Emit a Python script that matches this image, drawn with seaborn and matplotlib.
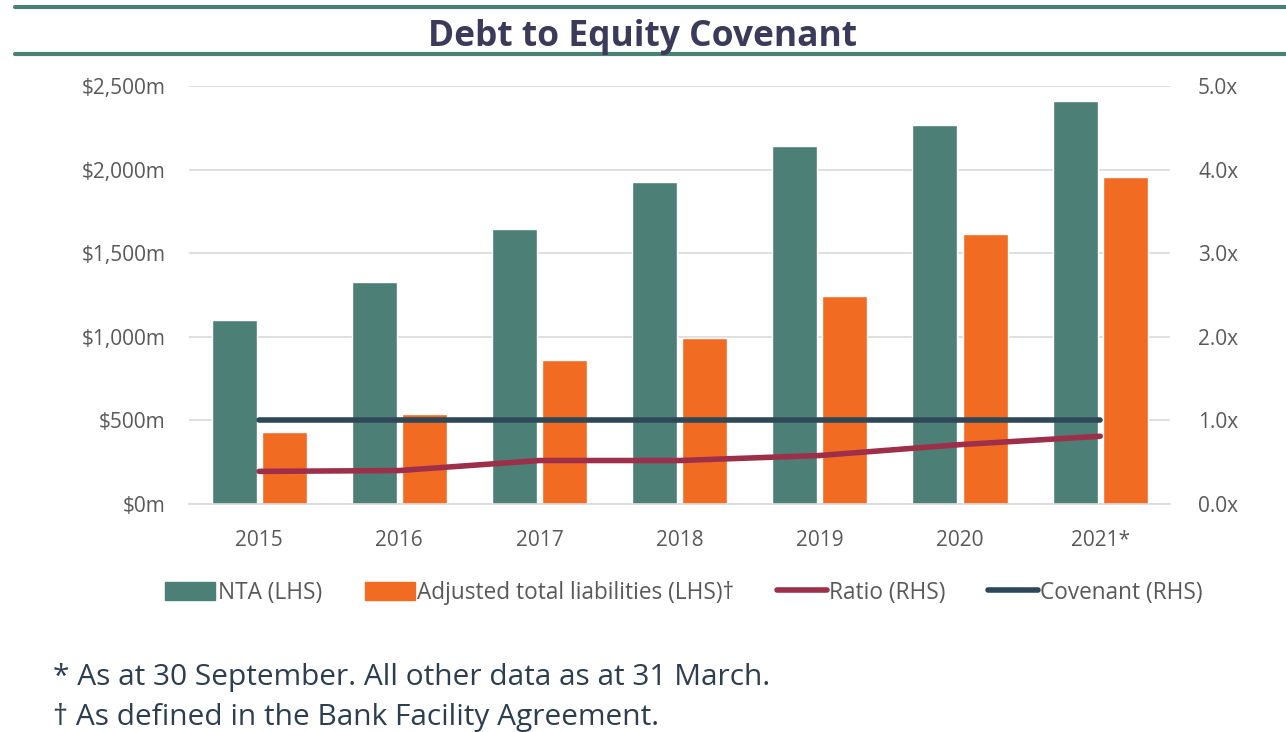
import pandas as pd
import matplotlib.pyplot as plt
import matplotlib.lines as mlines
import matplotlib.ticker as mticker
import seaborn as sns

years = ['2015', '2016', '2017', '2018', '2019', '2020', '2021*']
nta = [1100, 1328, 1645, 1926, 2141, 2266, 2410]
liabilities = [430, 538, 861, 993, 1244, 1615, 1955]
ratio = [0.39, 0.40, 0.52, 0.52, 0.58, 0.71, 0.81]
covenant = [1.0, 1.0, 1.0, 1.0, 1.0, 1.0, 1.0]

bar_labels = ['NTA (LHS)', 'Adjusted total liabilities (LHS)\u2020']
bar_colors = ['#4c7f76', '#f26b22']
ratio_color = '#9e2f4a'
covenant_color = '#2e4858'
text_color = '#595959'

df = pd.DataFrame({
    'year': years * 2,
    'value': nta + liabilities,
    'series': [bar_labels[0]] * len(years) + [bar_labels[1]] * len(years),
})

sns.set_style('white')
plt.rcParams['font.family'] = ['Open Sans', 'DejaVu Sans']

fig = plt.figure(figsize=(12.86, 7.32), dpi=100)
ax = fig.add_axes([0.147, 0.3115, 0.763, 0.571])

sns.barplot(data=df, x='year', y='value', hue='series', palette=bar_colors,
            width=0.714, gap=0.1, ax=ax, legend=False, saturation=1)
ax.set_ylim(0, 2500)
ax.set_xlim(-0.5, len(years) - 0.5)
ax.yaxis.set_major_locator(mticker.MultipleLocator(500))
ax.yaxis.set_major_formatter(mticker.FuncFormatter(lambda v, p: f'${v:,.0f}m'))
ax.grid(axis='y', color='#d9d9d9', linewidth=1.2)
ax.set_axisbelow(True)
ax.set_xlabel('')
ax.set_ylabel('')
for s in ['top', 'left', 'right']:
    ax.spines[s].set_visible(False)
ax.spines['bottom'].set_color('#d9d9d9')
ax.spines['bottom'].set_linewidth(1.2)
ax.tick_params(axis='both', length=0, labelsize=15, labelcolor=text_color)
ax.tick_params(axis='x', pad=19)
ax.tick_params(axis='y', pad=17)

ax2 = ax.twinx()
x = list(range(len(years)))
ax2.plot(x, covenant, color=covenant_color, linewidth=4, solid_capstyle='round')
ax2.plot(x, ratio, color=ratio_color, linewidth=4, solid_capstyle='round')
ax2.set_ylim(0, 5)
ax2.yaxis.set_major_locator(mticker.MultipleLocator(1))
ax2.yaxis.set_major_formatter(mticker.FuncFormatter(lambda v, p: f'{v:.1f}x'))
for s in ['top', 'left', 'right', 'bottom']:
    ax2.spines[s].set_visible(False)
ax2.tick_params(axis='y', length=0, labelsize=15, labelcolor=text_color, pad=20)

handles = [
    plt.Rectangle((0, 0), 1, 1, color=bar_colors[0]),
    plt.Rectangle((0, 0), 1, 1, color=bar_colors[1]),
    mlines.Line2D([], [], color=ratio_color, linewidth=4, solid_capstyle='round'),
    mlines.Line2D([], [], color=covenant_color, linewidth=4, solid_capstyle='round'),
]
labels = bar_labels + ['Ratio (RHS)', 'Covenant (RHS)']
leg = fig.legend(handles, labels, loc='center', bbox_to_anchor=(0.532, 0.190), ncol=4,
                 frameon=False, fontsize=16.3, handlelength=2.2, handleheight=0.85,
                 handletextpad=0.1, columnspacing=1.9)
for t in leg.get_texts():
    t.set_color(text_color)

fig.text(0.5, 0.950, 'Debt to Equity Covenant', ha='center', va='center',
         fontsize=25.5, fontweight='bold', color='#3b3a5a')
for yy in [0.990, 0.926]:
    fig.add_artist(mlines.Line2D([0.012, 1.0], [yy, yy], transform=fig.transFigure,
                                 color='#4c7f76', linewidth=3))

fig.text(0.041, 0.074, '* As at 30 September. All other data as at 31 March.',
         fontsize=21.5, color='#2d3e50', va='center')
fig.text(0.041, 0.020, '\u2020 As defined in the Bank Facility Agreement.',
         fontsize=21.5, color='#2d3e50', va='center')

fig.savefig('out.png', dpi=100)
